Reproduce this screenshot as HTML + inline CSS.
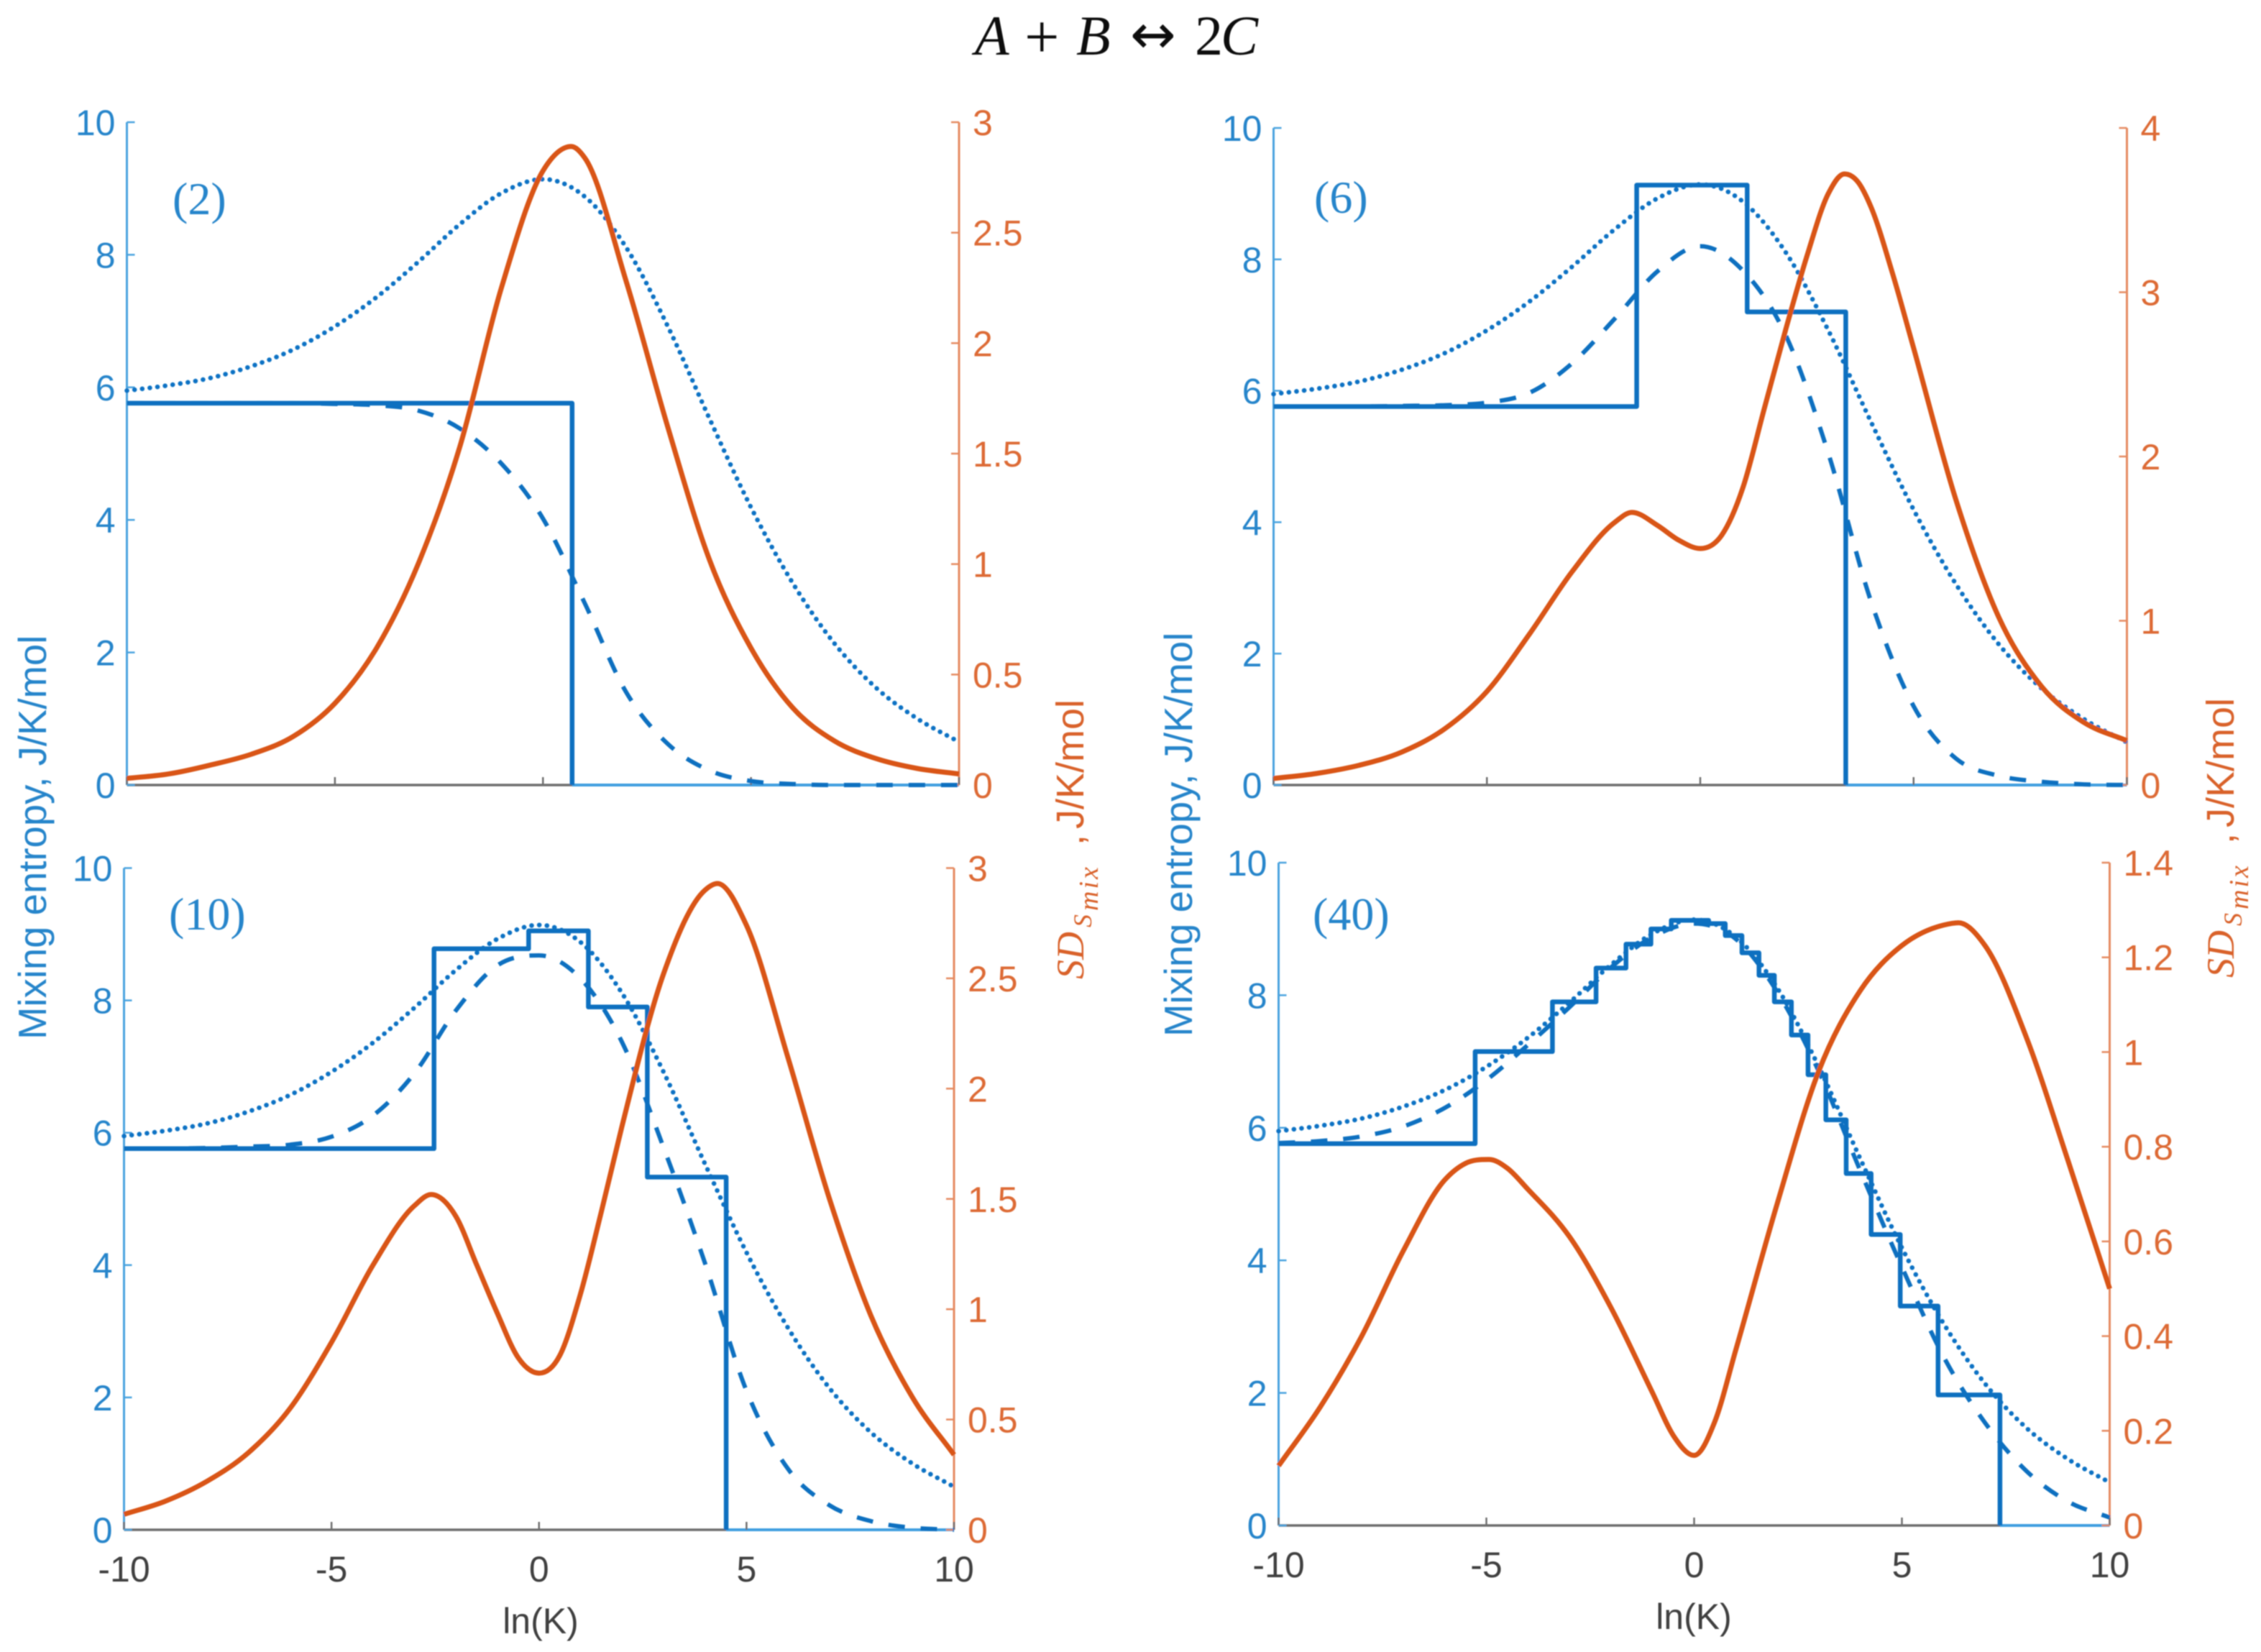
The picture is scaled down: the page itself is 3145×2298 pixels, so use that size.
<!DOCTYPE html>
<html lang="en">
<head>
<meta charset="utf-8">
<title>Mixing entropy and standard deviation versus ln(K)</title>
<style>
html,body{margin:0;padding:0;background:#fff;}
body{width:3145px;height:2298px;overflow:hidden;}
svg{display:block;}
text{font-family:"Liberation Sans",sans-serif;}
.serif{font-family:"Liberation Serif",serif;}
.blue-text{fill:#2585cb;}
.orange-text{fill:#d9622b;}
</style>
</head>
<body>
<svg id="figure" xmlns="http://www.w3.org/2000/svg" width="3145" height="2298" viewBox="0 0 3145 2298">
<defs>
<filter id="soft" x="-2%" y="-2%" width="104%" height="104%"><feGaussianBlur stdDeviation="0.9"/></filter>
</defs>
<rect width="3145" height="2298" fill="#ffffff"/>
<g id="root" filter="url(#soft)">
<text class="serif" y="76" font-size="78" fill="#111"><tspan x="1356" font-style="italic">A</tspan><tspan x="1425" y="80" font-size="86">+</tspan><tspan x="1497" y="76" font-style="italic">B</tspan><tspan x="1572" y="74" font-size="76" style="font-family:'DejaVu Sans',sans-serif">↔</tspan><tspan x="1662" y="76">2</tspan><tspan x="1698" font-style="italic">C</tspan></text>

<text class="serif blue-text" x="240" y="298" font-size="64">(2)</text>
<text class="serif blue-text" x="1828" y="296" font-size="64">(6)</text>
<text class="serif blue-text" x="235" y="1293" font-size="64">(10)</text>
<text class="serif blue-text" x="1826" y="1293" font-size="64">(40)</text>

<text class="blue-text" transform="translate(64,1446) rotate(-90)" font-size="54.5">Mixing entropy, J/K/mol</text>
<text class="blue-text" transform="translate(1658,1442) rotate(-90)" font-size="54.5">Mixing entropy, J/K/mol</text>

<text class="orange-text" transform="translate(1507,1362) rotate(-90)" font-size="54"><tspan class="serif" font-style="italic" x="0">SD</tspan><tspan class="serif" font-style="italic" x="72" dy="11" font-size="36">S</tspan><tspan class="serif" font-style="italic" x="95" dy="9" font-size="38" letter-spacing="3">mix</tspan><tspan x="186" dy="-20">,</tspan><tspan x="209">J/K/mol</tspan></text>
<text class="orange-text" transform="translate(3107,1360) rotate(-90)" font-size="54"><tspan class="serif" font-style="italic" x="0">SD</tspan><tspan class="serif" font-style="italic" x="72" dy="11" font-size="36">S</tspan><tspan class="serif" font-style="italic" x="95" dy="9" font-size="38" letter-spacing="3">mix</tspan><tspan x="186" dy="-20">,</tspan><tspan x="209">J/K/mol</tspan></text>

<text x="752" y="2272" text-anchor="middle" font-size="50" fill="#404040">ln(K)</text>
<text x="2356" y="2266" text-anchor="middle" font-size="50" fill="#404040">ln(K)</text>
</g>
</svg>
<script>
// ---- shared tick labels ----
const xTickValues = [-10, -5, 0, 5, 10];
const leftTickValues = [0, 2, 4, 6, 8, 10];
const rightTicks3 = [0, 0.5, 1, 1.5, 2, 2.5, 3];
const rightTicks4 = [0, 1, 2, 3, 4];
const rightTicks14 = [0, 0.2, 0.4, 0.6, 0.8, 1, 1.2, 1.4];

// ---- shared grid and theoretical (dotted) curve ----
const gridX = [-10,-9,-8,-7,-6,-5,-4,-3,-2,-1,0,1,2,3,4,5,6,7,8,9,10];
const dottedY = [5.95,6.03,6.14,6.32,6.57,6.92,7.36,7.89,8.46,8.93,9.14,8.88,8.11,6.92,5.53,4.19,3.05,2.14,1.47,1.0,0.65];

// ---- panel (2) ----
const dashed2 = [5.76,5.76,5.76,5.76,5.76,5.75,5.73,5.65,5.38,4.85,4.02,2.75,1.4,0.62,0.22,0.06,0.015,0,0,0,0];
const stepEdges2 = [0.7];
const stepLevels2 = [5.76, 0];
const orangeX2 = [-10,-9,-8,-7,-6,-5,-4,-3,-2,-1,0,0.68,1,2,3,4,5,6,7,8,9,10];
const orangeY2 = [0.03,0.05,0.09,0.14,0.22,0.37,0.62,1.0,1.53,2.25,2.78,2.89,2.84,2.28,1.62,1.02,0.62,0.35,0.2,0.12,0.075,0.05];

// ---- panel (6) ----
const dashed6 = [5.76,5.76,5.76,5.77,5.78,5.82,5.97,6.42,7.1,7.82,8.2,7.83,6.85,5.05,2.8,1.2,0.4,0.14,0.05,0.01,0];
const stepEdges6 = [-1.49, 1.1, 3.41];
const stepLevels6 = [5.76, 9.13, 7.2, 0];
const orangeX6 = [-10,-9,-8,-7,-6,-5,-4,-3,-2,-1.6,-1,-0.5,0,0.5,1,1.5,2,2.5,3,3.38,3.7,4,4.5,5,6,7,8,9,10];
const orangeY6 = [0.04,0.07,0.12,0.2,0.34,0.57,0.92,1.3,1.6,1.66,1.58,1.49,1.44,1.52,1.81,2.29,2.77,3.22,3.6,3.72,3.67,3.52,3.12,2.66,1.73,1.02,0.6,0.38,0.27];

// ---- panel (10) ----
const dashed10 = [5.76,5.76,5.77,5.79,5.82,5.94,6.26,6.9,7.85,8.53,8.68,8.33,7.37,5.78,4.03,2.1,0.92,0.37,0.13,0.03,0];
const stepEdges10 = [-2.53, -0.25, 1.19, 2.61, 4.51];
const stepLevels10 = [5.76, 8.78, 9.05, 7.9, 5.33, 0];
const orangeX10 = [-10,-9,-8,-7,-6,-5,-4,-3,-2.6,-2,-1.5,-1,-0.5,0,0.5,1,1.5,2,3,4,4.3,5,6,7,8,9,10];
const orangeY10 = [0.07,0.13,0.22,0.35,0.55,0.85,1.2,1.47,1.52,1.42,1.2,0.98,0.78,0.71,0.79,1.07,1.44,1.83,2.52,2.9,2.93,2.74,2.14,1.5,0.97,0.6,0.34];

// ---- panel (40) ----
const dashed40 = [5.77,5.8,5.87,6.02,6.3,6.72,7.25,7.82,8.42,8.88,9.08,8.85,8.05,6.85,5.35,3.9,2.55,1.55,0.82,0.36,0.12];
const stepEdges40 = [-5.27,-3.41,-2.36,-1.64,-1.04,-0.55,0.35,0.75,1.15,1.56,1.93,2.34,2.74,3.17,3.66,4.26,4.96,5.87,7.36];
const stepLevels40 = [5.76,7.15,7.9,8.41,8.77,9.0,9.13,9.08,8.9,8.64,8.3,7.9,7.4,6.8,6.12,5.31,4.39,3.31,1.97,0];
const orangeX40 = [-10,-9,-8,-7,-6,-5.5,-4.93,-4.5,-4,-3,-2,-1,-0.5,0,0.5,1,2,3,4,5,6,6.36,7,8,9,10];
const orangeY40 = [0.126,0.25,0.4,0.58,0.73,0.765,0.773,0.755,0.71,0.61,0.46,0.28,0.19,0.148,0.22,0.37,0.68,0.96,1.13,1.225,1.268,1.273,1.225,1.03,0.77,0.5];

const panels = [
  {id:'2',  box:{l:176.5,r:1334,t:170,b:1092},  dashed:dashed2,  edges:stepEdges2,  levels:stepLevels2,  ox:orangeX2,  oy:orangeY2,  rTicks:rightTicks3,  rMax:3,   xLabels:false},
  {id:'6',  box:{l:1771.5,r:2958.5,t:178,b:1092}, dashed:dashed6,  edges:stepEdges6,  levels:stepLevels6,  ox:orangeX6,  oy:orangeY6,  rTicks:rightTicks4,  rMax:4,   xLabels:false},
  {id:'10', box:{l:172.5,r:1327,t:1207.5,b:2128}, dashed:dashed10, edges:stepEdges10, levels:stepLevels10, ox:orangeX10, oy:orangeY10, rTicks:rightTicks3,  rMax:3,   xLabels:true},
  {id:'40', box:{l:1778.5,r:2934.5,t:1200,b:2122}, dashed:dashed40, edges:stepEdges40, levels:stepLevels40, ox:orangeX40, oy:orangeY40, rTicks:rightTicks14, rMax:1.4, xLabels:true}
];

const NS = 'http://www.w3.org/2000/svg';
const root = document.getElementById('root');

function make(tag, props, parent) {
  const el = document.createElementNS(NS, tag);
  for (const k in props) el.setAttribute(k, props[k]);
  parent.appendChild(el);
  return el;
}

function smoothPath(xs, ys, sx, sy) {
  const n = xs.length, d = [], m = [];
  for (let i = 0; i < n - 1; i++) d.push((ys[i+1]-ys[i])/(xs[i+1]-xs[i]));
  for (let i = 0; i < n; i++) {
    if (i === 0) { m.push(d[0]); continue; }
    if (i === n-1) { m.push(d[n-2]); continue; }
    if (d[i-1]*d[i] <= 0) { m.push(0); continue; }
    const h0 = xs[i]-xs[i-1], h1 = xs[i+1]-xs[i];
    m.push((d[i-1]*h1 + d[i]*h0)/(h0+h1));
  }
  let p = 'M' + sx(xs[0]).toFixed(1) + ' ' + sy(ys[0]).toFixed(1);
  for (let i = 0; i < n-1; i++) {
    const h = (xs[i+1]-xs[i])/3;
    p += ' C' + sx(xs[i]+h).toFixed(1) + ' ' + sy(Math.max(0, ys[i]+m[i]*h)).toFixed(1) +
         ' ' + sx(xs[i+1]-h).toFixed(1) + ' ' + sy(Math.max(0, ys[i+1]-m[i+1]*h)).toFixed(1) +
         ' ' + sx(xs[i+1]).toFixed(1) + ' ' + sy(ys[i+1]).toFixed(1);
  }
  return p;
}

function stepPath(edges, levels, sx, sy) {
  let p = 'M' + sx(-10).toFixed(1) + ' ' + sy(levels[0]).toFixed(1);
  for (let i = 0; i < edges.length; i++) {
    p += ' H' + sx(edges[i]).toFixed(1) + ' V' + sy(levels[i+1]).toFixed(1);
  }
  return p;
}

panels.forEach(function (panel) {
  const b = panel.box;
  const xScale = function (v) { return b.l + (v + 10) / 20 * (b.r - b.l); };
  const yLeft = function (v) { return b.b - v / 10 * (b.b - b.t); };
  const yRight = function (v) { return b.b - v / panel.rMax * (b.b - b.t); };

  const g = make('g', {}, root);
  
  

  const baseAxis = make('line', {x1:b.l, x2:b.r, y1:b.b, y2:b.b, stroke:'#6e6e6e', 'stroke-width':3.5}, g);
  
  

  const lastEdge = panel.edges[panel.edges.length - 1];
  const zeroLine = make('line', {x1:xScale(lastEdge), x2:b.r, y1:b.b, y2:b.b, stroke:'#3f9fe0', 'stroke-width':4}, g);
  
  

  const leftAxis = make('line', {x1:b.l, x2:b.l, y1:b.t, y2:b.b, stroke:'#4aa3df', 'stroke-width':3}, g);
  
  

  const rightAxis = make('line', {x1:b.r, x2:b.r, y1:b.t, y2:b.b, stroke:'#e58a60', 'stroke-width':3}, g);
  
  

  xTickValues.forEach(function (v) {
    const x = xScale(v);
    const t = make('line', {x1:x, x2:x, y1:b.b, y2:b.b - 11, stroke:'#6e6e6e', 'stroke-width':2.5}, g);
    
    
    if (panel.xLabels) {
      const lab = make('text', {x:x, y:b.b + 72, 'text-anchor':'middle', 'font-size':50, fill:'#404040'}, g);
      
      
      lab.textContent = String(v);
    }
  });

  leftTickValues.forEach(function (v) {
    const y = yLeft(v);
    const t = make('line', {x1:b.l, x2:b.l + 11, y1:y, y2:y, stroke:'#4aa3df', 'stroke-width':2.5}, g);
    
    
    const lab = make('text', {x:b.l - 16, y:y + 18, 'text-anchor':'end', 'font-size':50, fill:'#2585cb'}, g);
    
    
    lab.textContent = String(v);
  });

  panel.rTicks.forEach(function (v) {
    const y = yRight(v);
    const t = make('line', {x1:b.r - 11, x2:b.r, y1:y, y2:y, stroke:'#e58a60', 'stroke-width':2.5}, g);
    
    
    const lab = make('text', {x:b.r + 19, y:y + 18, 'text-anchor':'start', 'font-size':50, fill:'#dd6a35'}, g);
    
    
    lab.textContent = String(v);
  });

  const dotted = make('path', {d:smoothPath(gridX, dottedY, xScale, yLeft), fill:'none', stroke:'#0a72c4', 'stroke-width':6.5, 'stroke-dasharray':'0.1 10.6', 'stroke-linecap':'round'}, g);
  
  

  const dashed = make('path', {d:smoothPath(gridX, panel.dashed, xScale, yLeft), fill:'none', stroke:'#0a70c0', 'stroke-width':6, 'stroke-dasharray':'23 22'}, g);
  
  

  const step = make('path', {d:stepPath(panel.edges, panel.levels, xScale, yLeft), fill:'none', stroke:'#0a70c0', 'stroke-width':6.5, 'stroke-linejoin':'round'}, g);
  
  

  const orange = make('path', {d:smoothPath(panel.ox, panel.oy, xScale, yRight), fill:'none', stroke:'#d95514', 'stroke-width':7}, g);
  
  
});
</script>
</body>
</html>
